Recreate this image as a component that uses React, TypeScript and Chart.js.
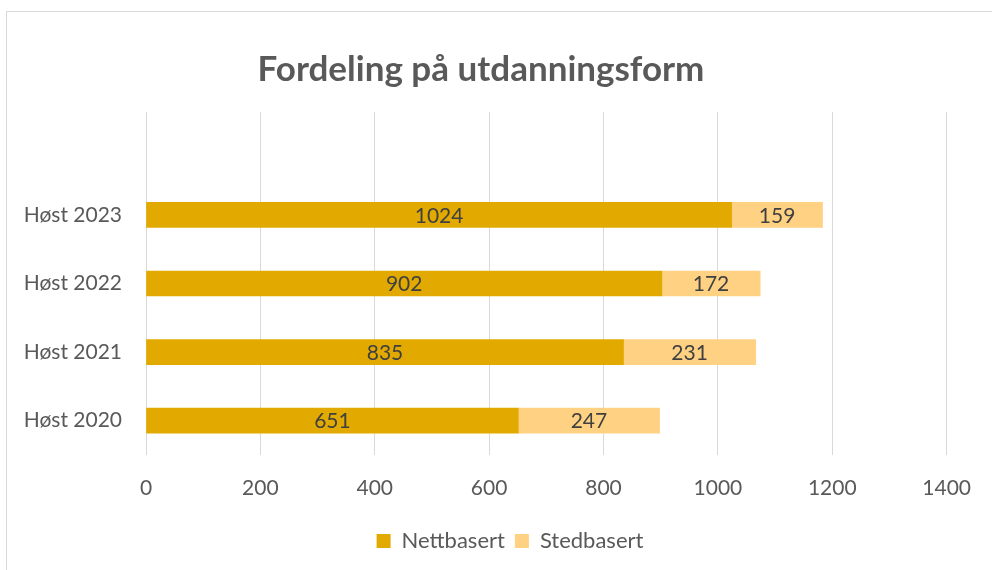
import React, { useEffect, useRef } from "react";
import { Chart, registerables } from "chart.js";

Chart.register(...registerables);

const categories = ["", "Høst 2023", "Høst 2022", "Høst 2021", "Høst 2020"];
const nettbasert = [null, 1024, 902, 835, 651];
const stedbasert = [null, 159, 172, 231, 247];
const seriesNames = ["Nettbasert", "Stedbasert"];
const colors = ["#E2AA00", "#FFD283"];
const title = "Fordeling på utdanningsform";
const FONT = "Lato, 'Open Sans', sans-serif";

const valueLabels = {
  id: "valueLabels",
  afterDatasetsDraw(chart: any) {
    const ctx = chart.ctx;
    ctx.save();
    ctx.font = `21px ${FONT}`;
    ctx.fillStyle = "#404040";
    ctx.textAlign = "center";
    ctx.textBaseline = "middle";
    chart.data.datasets.forEach((ds: any, i: number) => {
      const meta = chart.getDatasetMeta(i);
      meta.data.forEach((bar: any, j: number) => {
        const v = ds.data[j];
        if (v == null) return;
        const cx = (bar.x + bar.base) / 2;
        ctx.fillText(String(v), cx, bar.y + 1);
      });
    });
    ctx.restore();
  },
};

const shiftLegend = {
  id: "shiftLegend",
  afterLayout(chart: any) {
    if (chart.legend) {
      chart.legend.left += 29;
      chart.legend.right += 29;
    }
  },
};

export default function App() {
  const ref = useRef<HTMLCanvasElement>(null);
  useEffect(() => {
    const chart = new Chart(ref.current!, {
      type: "bar",
      data: {
        labels: categories,
        datasets: [
          { label: seriesNames[0], data: nettbasert, backgroundColor: colors[0], barThickness: 25 },
          { label: seriesNames[1], data: stedbasert, backgroundColor: colors[1], barThickness: 25 },
        ],
      },
      options: {
        indexAxis: "y",
        animation: false,
        responsive: false,
        layout: { padding: { left: 12, right: 42, top: 35, bottom: 8 } },
        scales: {
          x: {
            stacked: true,
            min: 0,
            max: 1400,
            ticks: {
              stepSize: 200,
              color: "#595959",
              font: { family: FONT, size: 21 },
              padding: 21,
              callback: (v: any) => String(v),
            },
            grid: { color: "#D9D9D9", drawTicks: false },
            border: { display: false },
            afterFit(scale: any) { scale.height = 65; },
          },
          y: {
            stacked: true,
            ticks: { color: "#595959", font: { family: FONT, size: 21 }, padding: 24 },
            grid: { display: false, drawTicks: false },
            border: { display: false },
            afterFit(scale: any) { scale.width = 134; },
          },
        },
        plugins: {
          title: {
            display: true,
            text: title,
            color: "#595959",
            font: { family: FONT, size: 35, weight: "bold" },
            padding: { top: 14, bottom: 21 },
          },
          legend: {
            position: "bottom",
            labels: {
              color: "#595959",
              font: { family: FONT, size: 22 },
              boxWidth: 14,
              boxHeight: 14,
              padding: 10,
            },
          },
          tooltip: { enabled: false },
        },
      },
      plugins: [valueLabels, shiftLegend],
    } as any);
    return () => chart.destroy();
  }, []);
  return (
    <div style={{ position: "fixed", left: 0, top: 0, width: 992, height: 570, overflow: "hidden", background: "#fff" }}>
      <div style={{ position: "absolute", left: 6, top: 11, width: 1100, height: 700, border: "1px solid #D9D9D9", boxSizing: "border-box" }} />
      <canvas ref={ref} width={992} height={570} style={{ position: "absolute", left: 0, top: 0 }} />
    </div>
  );
}
